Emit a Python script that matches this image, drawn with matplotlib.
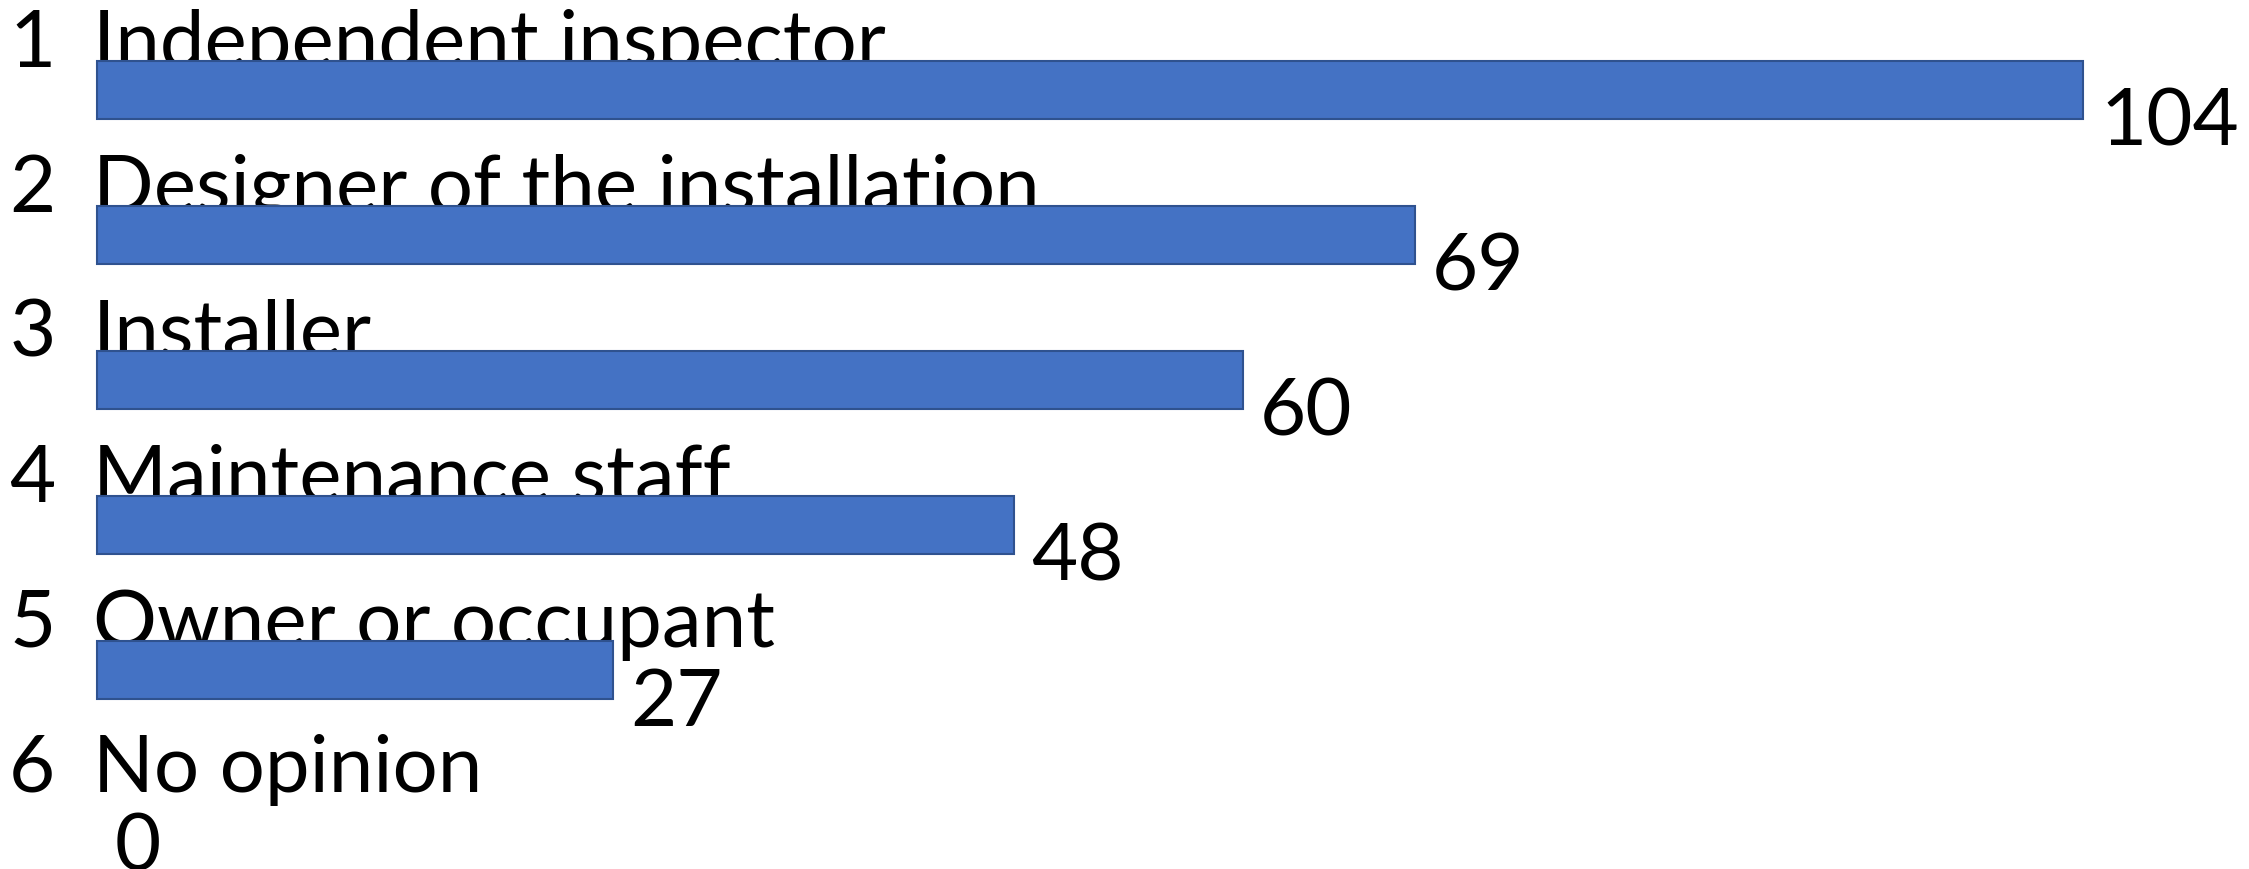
import matplotlib
matplotlib.use("Agg")
import matplotlib.pyplot as plt
import numpy as np

# Data
ranks = ['1', '2', '3', '4', '5', '6']
categories = ['Independent inspector', 'Designer of the installation', 'Installer',
              'Maintenance staff', 'Owner or occupant', 'No opinion']
counts = [104, 69, 60, 48, 27, 0]

plt.rcParams['font.family'] = ['Lato', 'DejaVu Sans']

fig = plt.figure(figsize=(22.49, 8.69), dpi=100)
ax = fig.add_axes([0, 0, 1, 1])

y = np.arange(len(categories))
fs = 57.5

for i in range(len(categories)):
    # labels sit under the bars
    ax.text(-4.6, y[i] - 0.159, ranks[i], fontsize=fs, va='baseline', ha='left', zorder=1)
    ax.text(-0.2, y[i] - 0.159, categories[i], fontsize=fs, va='baseline', ha='left', zorder=1)
    ax.text(counts[i] + 0.9, y[i] + 0.386, str(counts[i]), fontsize=fs,
            va='baseline', ha='left', zorder=3)

lw = [1.5 if c > 0 else 0 for c in counts]
ax.barh(y, counts, height=0.4, left=0, color='#4472C4', edgecolor='#2F528F',
        linewidth=lw, zorder=2)

ax.set_xlim(-97 / 19.1, (2249 - 97) / 19.1)
ax.set_ylim((869 - 90) / 145, -90 / 145)
ax.axis('off')

fig.savefig('out.png', dpi=100)
